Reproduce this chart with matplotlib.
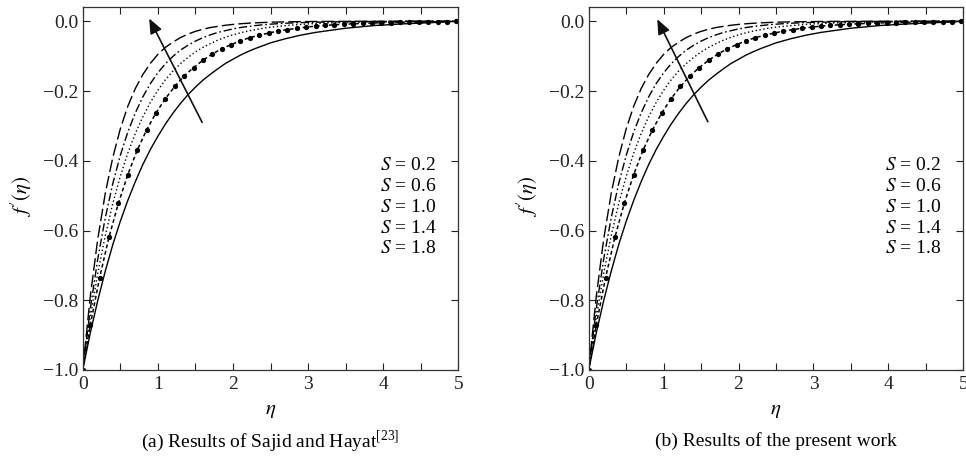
import numpy as np
import matplotlib
matplotlib.use("Agg")
import matplotlib.pyplot as plt

plt.rcParams['font.family'] = ['Liberation Serif', 'DejaVu Serif']
plt.rcParams['mathtext.fontset'] = 'stix'

# eta grid (sampling positions)
eta = np.round(np.arange(0, 5.0001, 0.1), 3)

# S = 0.2 (solid)
f_s02 = [-1.000, -0.895, -0.801, -0.717, -0.641, -0.574, -0.514, -0.460, -0.411, -0.368,
         -0.330, -0.295, -0.264, -0.236, -0.211, -0.189, -0.169, -0.152, -0.136, -0.121,
         -0.109, -0.097, -0.087, -0.078, -0.070, -0.062, -0.056, -0.050, -0.045, -0.040,
         -0.036, -0.032, -0.029, -0.026, -0.023, -0.020, -0.018, -0.016, -0.014, -0.012,
         -0.011, -0.0095, -0.0083, -0.0072, -0.0062, -0.0053, -0.0043, -0.0033, -0.0022, -0.0011,
         0.0]

# S = 0.6 (dash with dots) - sampled at marker positions
eta_m = [0.0, 0.1, 0.225, 0.35, 0.475, 0.6, 0.725, 0.85, 0.975, 1.1, 1.225, 1.35, 1.475,
         1.6, 1.725, 1.85, 1.975, 2.1, 2.225, 2.35, 2.475, 2.6, 2.725, 2.85, 2.975, 3.1,
         3.225, 3.35, 3.475, 3.6, 3.725, 3.85, 3.975, 4.1, 4.225, 4.35, 4.475, 4.6, 4.725,
         4.85, 4.975]
f_s06 = [-1.000, -0.872, -0.735, -0.619, -0.522, -0.440, -0.370, -0.312, -0.263, -0.222,
         -0.187, -0.157, -0.133, -0.112, -0.094, -0.079, -0.067, -0.056, -0.047, -0.040,
         -0.034, -0.028, -0.024, -0.020, -0.017, -0.014, -0.012, -0.010, -0.0086, -0.0072,
         -0.0061, -0.0051, -0.0043, -0.0036, -0.0031, -0.0026, -0.0022, -0.0018, -0.0015,
         -0.0010, -0.0003]

# S = 1.0 (dotted)
f_s10 = [-1.000, -0.850, -0.723, -0.615, -0.523, -0.445, -0.378, -0.322, -0.274, -0.233,
         -0.198, -0.168, -0.143, -0.122, -0.104, -0.088, -0.075, -0.064, -0.054, -0.046,
         -0.039, -0.033, -0.028, -0.024, -0.020, -0.017, -0.0148, -0.0126, -0.0107, -0.0091,
         -0.0077, -0.0066, -0.0056, -0.0048, -0.0041, -0.0035, -0.0029, -0.0025, -0.0021, -0.0018,
         -0.0015, -0.0013, -0.0011, -0.0009, -0.0008, -0.0007, -0.0006, -0.0005, -0.0003, -0.0002,
         0.0]

# S = 1.4 (dash-dot)
f_s14 = [-1.000, -0.826, -0.682, -0.564, -0.466, -0.385, -0.318, -0.263, -0.217, -0.179,
         -0.148, -0.122, -0.101, -0.083, -0.069, -0.057, -0.047, -0.039, -0.032, -0.027,
         -0.022, -0.018, -0.015, -0.0124, -0.0102, -0.0084, -0.0070, -0.0057, -0.0048, -0.0039,
         -0.0032, -0.0027, -0.0022, -0.0018, -0.0015, -0.0012, -0.0010, -0.0008, -0.0007, -0.0006,
         -0.0005, -0.0004, -0.0003, -0.0003, -0.0002, -0.0002, -0.0001, -0.0001, -0.0001, 0.0,
         0.0]

# S = 1.8 (long dash)
f_s18 = [-1.000, -0.791, -0.625, -0.494, -0.391, -0.309, -0.244, -0.193, -0.153, -0.121,
         -0.095, -0.075, -0.060, -0.047, -0.037, -0.029, -0.023, -0.018, -0.0146, -0.0115,
         -0.0091, -0.0072, -0.0057, -0.0045, -0.0036, -0.0028, -0.0022, -0.0018, -0.0014, -0.0011,
         -0.0009, -0.0007, -0.0005, -0.0004, -0.0003, -0.0003, -0.0002, -0.0002, -0.0001, -0.0001,
         -0.0001, 0.0, 0.0, 0.0, 0.0, 0.0, 0.0, 0.0, 0.0, 0.0,
         0.0]

s_labels = ["0.2", "0.6", "1.0", "1.4", "1.8"]
captions = [r"(a) Results of Sajid and Hayat$^{\mathregular{[23]}}$",
            "(b) Results of the present work"]
xticks = [0, 1, 2, 3, 4, 5]
yticks = [-1.0, -0.8, -0.6, -0.4, -0.2, 0.0]

W, H = 966, 457
fig = plt.figure(figsize=(W / 100, H / 100), dpi=100)

panels = [
    dict(left=82.7, right=458.3, arrow=((1.59, -0.290), (0.885, 0.008))),
    dict(left=588.7, right=963.3, arrow=((1.59, -0.288), (0.915, 0.006))),
]
top, bottom = 7.3, 370.0
FS = 14

for i, p in enumerate(panels):
    ax = fig.add_axes([p['left'] / W, 1 - bottom / H, (p['right'] - p['left']) / W,
                       (bottom - top) / H])
    k = 'k'
    ax.plot(eta, f_s02, color=k, lw=1.0, ls='-')
    ax.plot(eta_m, f_s06, color=k, lw=1.1, ls=(0.5, (2.5, 1.8)), marker='o', ms=3.8,
            markeredgewidth=0)
    ax.plot(eta, f_s10, color=k, lw=1.0, ls=(0, (1, 1.8)))
    ax.plot(eta, f_s14, color=k, lw=1.0, ls=(0, (6, 2, 1.2, 2)))
    ax.plot(eta, f_s18, color=k, lw=1.0, ls=(0, (9, 3)))

    ax.set_xlim(0, 5)
    ax.set_ylim(-1.0, 0.04)
    ax.set_xticks(xticks)
    ax.set_xticklabels([str(v) for v in xticks], fontsize=FS)
    ax.set_xticks(np.arange(0.5, 5, 1.0), minor=True)
    ax.set_yticks(yticks)
    ax.set_yticklabels([f"{v:.1f}".replace('-', '\u2212') for v in yticks], fontsize=FS)
    ax.tick_params(which='both', direction='in', top=True, right=True, length=5,
                   width=0.8, colors='#222222')
    ax.tick_params(axis='x', pad=4)
    ax.tick_params(axis='y', pad=3)
    for sp in ax.spines.values():
        sp.set_linewidth(0.9)
        sp.set_color('#333333')

    (tx, ty), (hx, hy) = p['arrow']
    ax.annotate('', xy=(hx, hy), xytext=(tx, ty),
                arrowprops=dict(arrowstyle='-|>,head_length=0.6,head_width=0.25',
                                color='#111111', lw=1.2, mutation_scale=15,
                                shrinkA=0, shrinkB=0))

    ys = [0.565, 0.5055, 0.4475, 0.389, 0.334]
    for s, yy in zip(s_labels, ys):
        ax.text(0.7915, yy, r"$S$ = " + s, transform=ax.transAxes, fontsize=FS,
                ha='left', va='center')

    cx = (p['left'] + p['right']) / 2
    fig.text((p['left'] - 61.5) / W, 1 - 196 / H, r"$f'(\eta)$", rotation=90,
             ha='center', va='center', fontsize=FS + 1)
    fig.text(cx / W, 1 - 410 / H, r"$\eta$", ha='center', va='center', fontsize=FS + 1)
    fig.text(cx / W, 1 - 441 / H, captions[i], ha='center', va='center', fontsize=FS)

fig.savefig('out.png', dpi=100)
